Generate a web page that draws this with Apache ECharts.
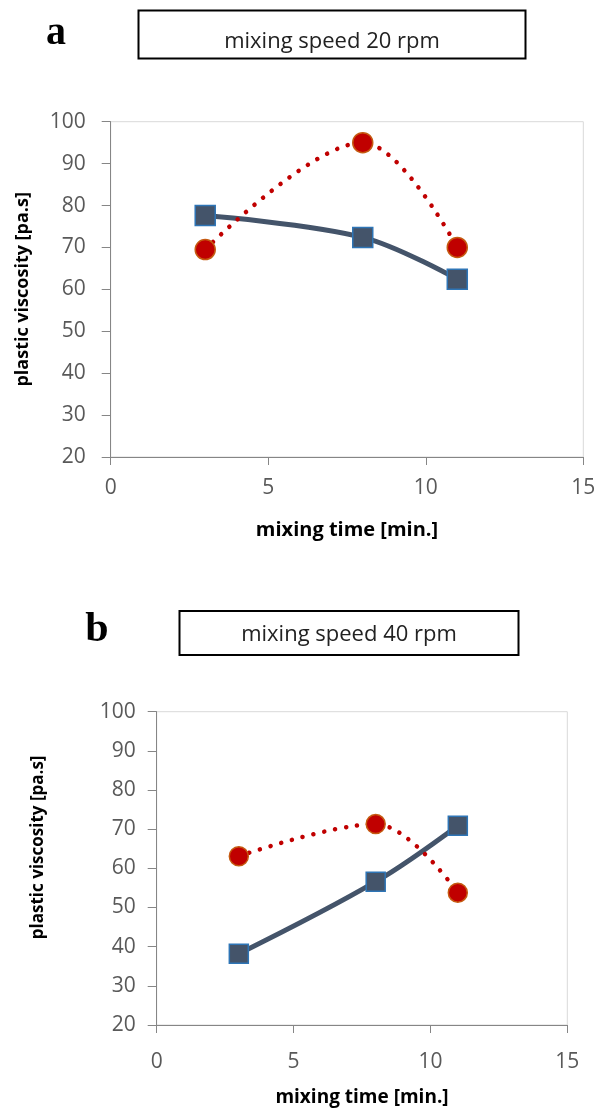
<!DOCTYPE html>
<html>
<head>
<meta charset="utf-8">
<script src="https://cdn.jsdelivr.net/npm/echarts@6/dist/echarts.min.js"></script>
<style>
html,body{margin:0;padding:0;background:#fff;}
#chart{width:599px;height:1111px;}
</style>
</head>
<body>
<div id="chart"></div>
<script>
// ---- data ----
const mixingTime = [3, 8, 11];
const a_squares = [77.6, 72.4, 62.4];
const a_circles = [69.5, 95.0, 70.0];
const b_squares = [38.2, 56.6, 70.9];
const b_circles = [63.1, 71.3, 53.8];
const titleA = 'mixing speed 20 rpm';
const titleB = 'mixing speed 40 rpm';
const xName = 'mixing time [min.]';
const yName = 'plastic viscosity [pa.s]';

const pairs = (xs, ys) => xs.map((x, i) => [x, ys[i]]);

const FONT = 'Open Sans';
const AXIS_C = '#868686';
const LABEL_C = '#595959';

function xAxis(gridIndex, margin, gap, nameSize) {
  return {
    gridIndex, type: 'value', min: 0, max: 15, interval: 5,
    name: xName, nameLocation: 'middle', nameGap: gap,
    nameTextStyle: {fontFamily: FONT, fontWeight: 'bold', fontSize: nameSize, color: '#000'},
    axisLine: {show: true, onZero: false, lineStyle: {color: AXIS_C, width: 1}},
    axisTick: {show: true, length: 8, inside: false, lineStyle: {color: AXIS_C}},
    axisLabel: {fontFamily: FONT, fontSize: 21, color: LABEL_C, margin: margin},
    splitLine: {show: false}
  };
}
function yAxis(gridIndex, margin, gap, pad, nameSize) {
  return {
    gridIndex, type: 'value', min: 20, max: 100, interval: 10,
    name: yName, nameLocation: 'middle', nameGap: gap,
    nameTextStyle: {fontFamily: FONT, fontWeight: 'bold', fontSize: nameSize, color: '#000', padding: pad},
    axisLine: {show: true, lineStyle: {color: AXIS_C, width: 1}},
    axisTick: {show: true, length: 9, inside: false, lineStyle: {color: AXIS_C}},
    axisLabel: {fontFamily: FONT, fontSize: 21, color: LABEL_C, margin: margin},
    splitLine: {show: false}
  };
}
function squares(idx, data, size) {
  return {
    type: 'line', xAxisIndex: idx, yAxisIndex: idx, data: data, smooth: 0.35,
    symbol: 'rect', symbolSize: size,
    lineStyle: {color: '#44546A', width: 5},
    itemStyle: {color: '#44546A', borderColor: '#2E75B6', borderWidth: 1.5},
    z: 2, animation: false
  };
}
function circles(idx, data, size) {
  return {
    type: 'line', xAxisIndex: idx, yAxisIndex: idx, data: data, smooth: 0.35,
    symbol: 'circle', symbolSize: size,
    lineStyle: {color: '#C00000', width: 4.5, type: [0.1, 11], cap: 'round'},
    itemStyle: {color: '#C00000', borderColor: '#C55A11', borderWidth: 1.5},
    z: 3, animation: false
  };
}

function titleBox(x, y, w, h, text, ty) {
  return [
    {type: 'rect', shape: {x: x, y: y, width: w, height: h},
     style: {fill: '#fff', stroke: '#000', lineWidth: 2}},
    {type: 'text', x: x + w / 2, y: ty,
     style: {text: text, font: '22px "Open Sans"', fill: '#222', textAlign: 'center', textVerticalAlign: 'middle'}}
  ];
}

const chart = echarts.init(document.getElementById('chart'), null, {renderer: 'canvas'});
chart.setOption({
  animation: false,
  backgroundColor: '#fff',
  grid: [
    {left: 110.7, top: 121.7, width: 472.6, height: 335.3, show: true, borderColor: '#D9D9D9', borderWidth: 1, backgroundColor: 'transparent'},
    {left: 156.7, top: 711.7, width: 410.6, height: 313.3, show: true, borderColor: '#D9D9D9', borderWidth: 1, backgroundColor: 'transparent'}
  ],
  xAxis: [xAxis(0, 21, 63, 20), xAxis(1, 27, 63, 19)],
  yAxis: [yAxis(0, 25, 79, 0, 18), yAxis(1, 21, 110, [0, 0, 0, 42], 17)],
  series: [
    squares(0, pairs(mixingTime, a_squares), 20),
    circles(0, pairs(mixingTime, a_circles), 20),
    squares(1, pairs(mixingTime, b_squares), 19),
    circles(1, pairs(mixingTime, b_circles), 19)
  ],
  graphic: [
    ...titleBox(138.5, 10.5, 387, 48, titleA, 42),
    ...titleBox(179.5, 611, 339, 44, titleB, 635),
    {type: 'text', x: 56, y: 34, style: {text: 'a', font: 'bold 40px "Liberation Serif"', fill: '#000', textAlign: 'center', textVerticalAlign: 'middle'}},
    {type: 'text', x: 97, y: 630, style: {text: 'b', font: 'bold 42px "Liberation Serif"', fill: '#000', textAlign: 'center', textVerticalAlign: 'middle'}}
  ]
});
</script>
</body>
</html>
